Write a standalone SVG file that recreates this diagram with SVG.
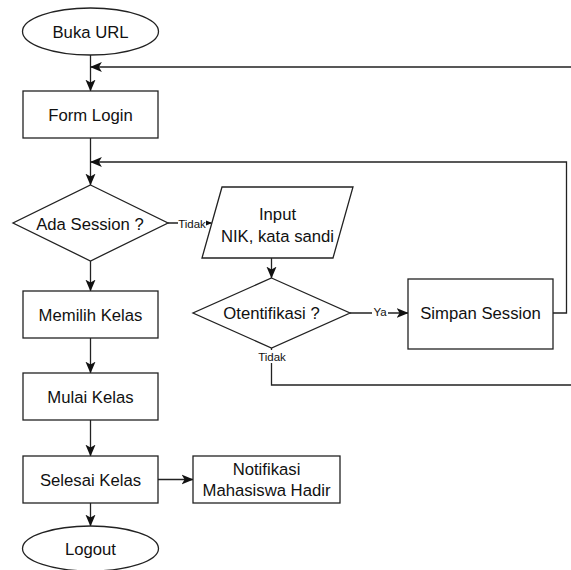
<svg xmlns="http://www.w3.org/2000/svg" width="571" height="570" viewBox="0 0 571 570">
<style>
.s{fill:#fff;stroke:#222;stroke-width:1.3}
.t{font-family:"Liberation Sans",Arial,sans-serif;font-size:16.7px;fill:#111;text-anchor:middle}
.l{font-family:"Liberation Sans",Arial,sans-serif;font-size:11.5px;fill:#111;text-anchor:middle}
.e{fill:none;stroke:#222;stroke-width:1.3}
</style>
<defs>
<marker id="a" markerUnits="userSpaceOnUse" markerWidth="12" markerHeight="12" viewBox="0 0 10 10" refX="9.5" refY="5" orient="auto">
<path d="M0,0.8 L10,5 L0,9.2 L2.5,5 z" fill="#111"/>
</marker>
</defs>
<rect width="571" height="570" fill="#fff"/>
<g id="edges">
<path class="e" d="M90.5,55 V91" marker-end="url(#a)"/>
<path class="e" d="M90.5,138 V185" marker-end="url(#a)"/>
<path class="e" d="M90.5,261 V291" marker-end="url(#a)"/>
<path class="e" d="M90.5,338 V373" marker-end="url(#a)"/>
<path class="e" d="M90.5,420 V456" marker-end="url(#a)"/>
<path class="e" d="M90.5,503 V526" marker-end="url(#a)"/>
<path class="e" d="M158,479.5 H193" marker-end="url(#a)"/>
<path class="e" d="M168,223 H211.5" marker-end="url(#a)"/>
<path class="e" d="M271.5,258 V278" marker-end="url(#a)"/>
<path class="e" d="M350,313 H408" marker-end="url(#a)"/>
<path class="e" d="M553,313 H566.5 V162 H90.5" marker-end="url(#a)"/>
<path class="e" d="M271.5,348 V385 H600 V67 H90.5" marker-end="url(#a)"/>
<rect x="178" y="217" width="28" height="13" fill="#fff"/>
<text class="l" x="192" y="227.5">Tidak</text>
<rect x="372" y="305" width="16" height="12" fill="#fff"/>
<text class="l" x="380" y="315.5">Ya</text>
<rect x="256" y="350" width="32" height="13" fill="#fff"/>
<text class="l" x="272" y="360.5">Tidak</text>
</g>
<g id="buka-url"><ellipse class="s" cx="90.5" cy="31.5" rx="68" ry="23.5"/><text class="t" x="90.5" y="37.5">Buka URL</text></g>
<g id="form-login"><rect class="s" x="23" y="91" width="135" height="47"/><text class="t" x="90.5" y="120.5">Form Login</text></g>
<g id="ada-session"><polygon class="s" points="90.5,185 168,223 90.5,261 13,223"/><text class="t" x="90" y="229.5">Ada Session ?</text></g>
<g id="input"><polygon class="s" points="222,187 353,187 333,258 202,258"/><text class="t" x="277.5" y="220">Input</text><text class="t" x="277.5" y="241.5">NIK, kata sandi</text></g>
<g id="otentifikasi"><polygon class="s" points="271.5,278 350,313 271.5,348 193,313"/><text class="t" x="271.5" y="319">Otentifikasi ?</text></g>
<g id="simpan-session"><rect class="s" x="408" y="279" width="145" height="70"/><text class="t" x="480.5" y="319">Simpan Session</text></g>
<g id="memilih-kelas"><rect class="s" x="23" y="291" width="135" height="47"/><text class="t" x="90.5" y="320.5">Memilih Kelas</text></g>
<g id="mulai-kelas"><rect class="s" x="23" y="373" width="135" height="47"/><text class="t" x="90.5" y="402.5">Mulai Kelas</text></g>
<g id="selesai-kelas"><rect class="s" x="23" y="456" width="135" height="47"/><text class="t" x="90.5" y="485.5">Selesai Kelas</text></g>
<g id="notifikasi"><rect class="s" x="193" y="456" width="147" height="47"/><text class="t" x="266.5" y="475">Notifikasi</text><text class="t" x="266.5" y="496">Mahasiswa Hadir</text></g>
<g id="logout"><ellipse class="s" cx="90.5" cy="548.5" rx="68" ry="22.5"/><text class="t" x="90.5" y="555">Logout</text></g>
</svg>
